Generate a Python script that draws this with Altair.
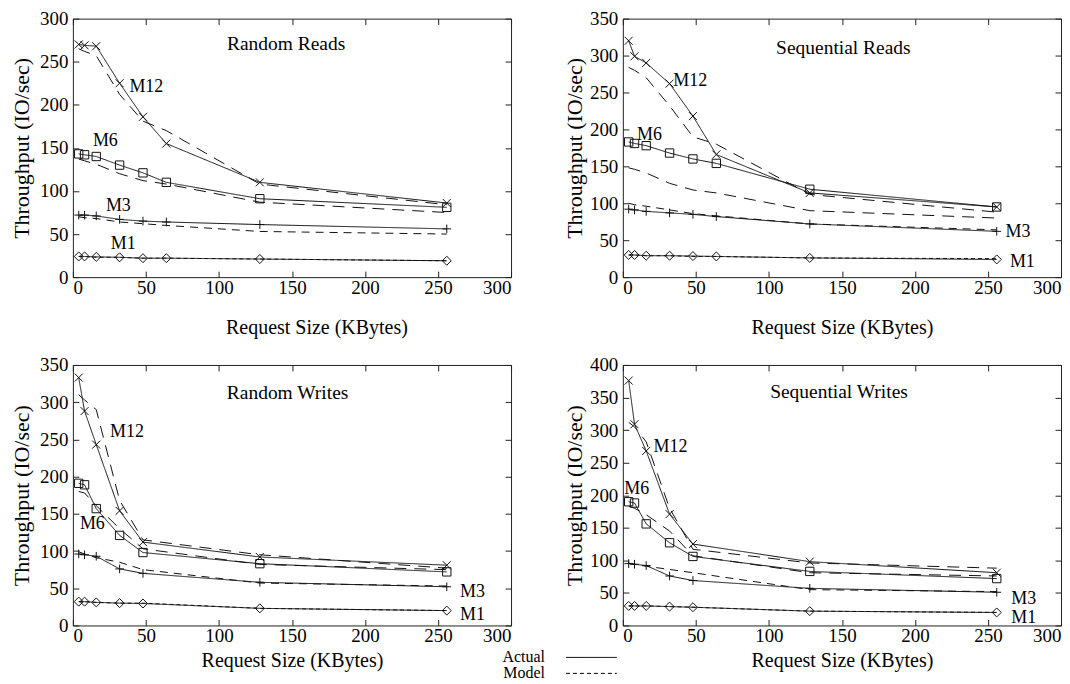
import altair as alt
import pandas as pd

FONT = "Liberation Serif"

# ---------------- data ----------------
x_reads = [4, 8, 16, 32, 48, 64, 128, 256]
x_writes = [4, 8, 16, 32, 48, 128, 256]

# Random Reads
rr_m12_act = [270, 269, 268, 225, 186, 155, 110, 86]
rr_m12_mod = [265, 262, 257, 212, 181, 170, 108, 84]
rr_m6_act = [143, 142, 140, 130, 121, 110, 91, 81]
rr_m6_mod = [137, 135, 131, 120, 112, 108, 87, 75]
rr_m3_act = [72, 72, 71, 67, 65, 64, 61, 56]
rr_m3_mod = [70, 69, 68, 64, 62, 60, 53, 50]
rr_m1_act = [24, 24, 23.5, 23, 22, 22, 21, 19]
rr_m1_mod = [24, 24, 23, 23, 22, 22, 21, 19]

# Sequential Reads
sr_m12_act = [320, 299, 290, 262, 218, 166, 114, 95]
sr_m12_mod = [284, 280, 270, 232, 190, 180, 112, 88]
sr_m6_act = [183, 181, 178, 168, 160, 154, 119, 95]
sr_m6_mod = [148, 146, 141, 127, 118, 114, 90, 80]
sr_m3_act = [92, 91, 89, 87, 85, 82, 72, 62]
sr_m3_mod = [100, 98, 96, 91, 86, 83, 72, 64]
sr_m1_act = [30, 30, 29, 29, 28.5, 28, 26, 24]
sr_m1_mod = [30, 30, 29, 29, 28, 28, 26, 25]

# Random Writes
rw_m12_act = [333, 288, 243, 154, 112, 92, 81]
rw_m12_mod = [310, 303, 290, 168, 115, 95, 77]
rw_m6_act = [191, 189, 157, 121, 98, 83, 72]
rw_m6_mod = [180, 178, 161, 130, 103, 82, 75]
rw_m3_act = [96, 95, 93, 76, 70, 58, 52]
rw_m3_mod = [99, 96, 91, 85, 75, 57, 53]
rw_m1_act = [32, 32, 31, 30, 29.5, 23, 20]
rw_m1_mod = [32, 32, 31, 30, 30, 23, 20]

# Sequential Writes
sw_m12_act = [376, 309, 268, 171, 125, 98, 81]
sw_m12_mod = [312, 305, 282, 180, 117, 96, 88]
sw_m6_act = [190, 188, 156, 127, 106, 83, 72]
sw_m6_mod = [183, 180, 170, 145, 107, 81, 76]
sw_m3_act = [95, 94, 92, 76, 69, 57, 51]
sw_m3_mod = [96, 94, 91, 86, 81, 55, 52]
sw_m1_act = [30, 30, 30, 29, 28, 22, 20]
sw_m1_mod = [30, 30, 30, 29, 28, 22, 20]

series_names = ["M12", "M6", "M3", "M1"]
panel_titles = ["Random Reads", "Sequential Reads", "Random Writes", "Sequential Writes"]
y_max = [300, 350, 350, 400]

# annotation anchors (data coordinates)
ann_rr = {"M12": (38.7, 221), "M6": (13.7, 157.5), "M3": (22.6, 82), "M1": (26, 39)}
ann_sr = {"M12": (34.6, 265), "M6": (9.7, 193), "M3": (262, 61.6), "M1": (265, 20)}
ann_rw = {"M12": (25.5, 260), "M6": (4.8, 136), "M3": (265, 45.6), "M1": (265, 13.4)}
ann_sw = {"M12": (21, 274), "M6": (1, 209), "M3": (266, 40), "M1": (266, 12)}
title_pos = [(146, 270), (151, 310), (147, 312), (148, 359)]

MODEL_STYLE = {"M12": "ModelLong", "M6": "ModelLong", "M3": "ModelMid", "M1": "Model"}


def build_df(xs, series):
    rows = []
    for name, (act, mod) in zip(series_names, series):
        for x, v in zip(xs, act):
            rows.append({"x": x, "y": v, "series": name, "kind": "Actual",
                         "style": "Actual", "key": name + "-a"})
        for x, v in zip(xs, mod):
            rows.append({"x": x, "y": v, "series": name, "kind": "Model",
                         "style": MODEL_STYLE[name], "key": name + "-m"})
    return pd.DataFrame(rows)


df_rr = build_df(x_reads, [(rr_m12_act, rr_m12_mod), (rr_m6_act, rr_m6_mod),
                           (rr_m3_act, rr_m3_mod), (rr_m1_act, rr_m1_mod)])
df_sr = build_df(x_reads, [(sr_m12_act, sr_m12_mod), (sr_m6_act, sr_m6_mod),
                           (sr_m3_act, sr_m3_mod), (sr_m1_act, sr_m1_mod)])
df_rw = build_df(x_writes, [(rw_m12_act, rw_m12_mod), (rw_m6_act, rw_m6_mod),
                            (rw_m3_act, rw_m3_mod), (rw_m1_act, rw_m1_mod)])
df_sw = build_df(x_writes, [(sw_m12_act, sw_m12_mod), (sw_m6_act, sw_m6_mod),
                            (sw_m3_act, sw_m3_mod), (sw_m1_act, sw_m1_mod)])

X_SHAPE = "M-1,-1L1,1M-1,1L1,-1"
PLUS_SHAPE = "M-1,0L1,0M0,-1L0,1"


def panel(df, ymax, ann, tpos, ttext, w, h, x_title_pad, y_title_pad,
          legend=None, x_title_x=None):
    xs = alt.Scale(domain=[0, 300], nice=False)
    ys = alt.Scale(domain=[0, ymax], nice=False)
    xvals = list(range(0, 301, 50))
    yvals = list(range(0, ymax + 1, 50))

    xa_kwargs = dict(values=xvals, title="Request Size (KBytes)", orient="bottom",
                     domain=False, ticks=True, tickSize=6, offset=-6,
                     labelPadding=1, titlePadding=x_title_pad, grid=False,
                     titleFontSize=20)
    if x_title_x is not None:
        xa_kwargs["titleX"] = x_title_x
    x_main = alt.Axis(**xa_kwargs)
    y_main = alt.Axis(values=yvals, title="Throughput (IO/sec)", orient="left",
                      domain=False, ticks=True, tickSize=6, offset=-6,
                      labelPadding=5, titlePadding=y_title_pad, grid=False,
                      titleFontSize=22)
    x_top = alt.Axis(values=xvals, title=None, orient="top", labels=False,
                     domain=False, ticks=True, tickSize=6, offset=-6, grid=False)
    y_right = alt.Axis(values=yvals, title=None, orient="right", labels=False,
                       domain=False, ticks=True, tickSize=6, offset=-6, grid=False)

    dash_scale = alt.Scale(domain=["Actual", "Model", "ModelMid", "ModelLong"],
                           range=[[1, 0], [4, 3], [8, 6], [12, 8]])
    base = alt.Chart(df)

    if legend is not None:
        sd = alt.StrokeDash("style:N", scale=dash_scale, legend=legend)
    else:
        sd = alt.StrokeDash("style:N", scale=dash_scale, legend=None)

    lines = base.mark_line(color="#111", strokeWidth=1).encode(
        x=alt.X("x:Q", scale=xs, axis=x_main),
        y=alt.Y("y:Q", scale=ys, axis=y_main),
        detail="key:N",
        strokeDash=sd,
        order="x:Q",
    )
    frame = base.mark_line(opacity=0).encode(
        x=alt.X("x:Q", scale=xs, axis=x_top),
        y=alt.Y("y:Q", scale=ys, axis=y_right),
        detail="key:N",
    )
    pts = base.transform_filter(alt.datum.kind == "Actual").mark_point(
        filled=False, color="#111", strokeWidth=1, opacity=1
    ).encode(
        x=alt.X("x:Q", scale=xs, axis=None),
        y=alt.Y("y:Q", scale=ys, axis=None),
        shape=alt.Shape("series:N", scale=alt.Scale(domain=series_names,
                        range=[X_SHAPE, "square", PLUS_SHAPE, "diamond"]), legend=None),
        size=alt.Size("series:N", scale=alt.Scale(domain=series_names,
                      range=[64, 81, 81, 42]), legend=None),
    )
    ann_df = pd.DataFrame({"label": list(ann.keys()),
                           "x": [v[0] for v in ann.values()],
                           "y": [v[1] for v in ann.values()]})
    txt = alt.Chart(ann_df).mark_text(align="left", baseline="middle", font=FONT,
                                      fontSize=18, color="black").encode(
        x=alt.X("x:Q", scale=xs, axis=None),
        y=alt.Y("y:Q", scale=ys, axis=None),
        text="label:N",
    )
    tdf = pd.DataFrame({"label": [ttext], "x": [tpos[0]], "y": [tpos[1]]})
    ttl = alt.Chart(tdf).mark_text(align="center", baseline="middle", font=FONT,
                                   fontSize=19.5, color="black").encode(
        x=alt.X("x:Q", scale=xs, axis=None),
        y=alt.Y("y:Q", scale=ys, axis=None),
        text="label:N",
    )
    return alt.layer(lines, frame, pts, txt, ttl).properties(
        width=w, height=h
    ).resolve_axis(x="independent", y="independent")


legend = alt.Legend(values=["Actual", "Model"], orient="none", legendX=457,
                    legendY=285, title=None, symbolType="M14.5,0L40,0", symbolSize=16,
                    symbolStrokeColor="black", symbolStrokeWidth=1,
                    labelFont=FONT, labelFontSize=16, labelColor="black",
                    labelAlign="right", labelOffset=0, rowPadding=0, padding=0)

W = 439
p1 = panel(df_rr, y_max[0], ann_rr, title_pos[0], panel_titles[0], W, 259, 20, 6,
           x_title_x=244)
p2 = panel(df_sr, y_max[1], ann_sr, title_pos[1], panel_titles[1], W, 259, 20, 3)
p3 = panel(df_rw, y_max[2], ann_rw, title_pos[2], panel_titles[2], W, 261, 5, 6,
           legend=legend)
p4 = panel(df_sw, y_max[3], ann_sw, title_pos[3], panel_titles[3], W, 261, 5, 3)

chart = alt.concat(
    p1, p2, p3, p4, columns=2, spacing={"row": 88, "column": 112}, bounds="flush"
).resolve_scale(
    strokeDash="independent", shape="independent", size="independent"
).resolve_legend(strokeDash="independent").properties(
    padding={"left": 2, "top": 0, "right": 0, "bottom": 0}
).configure_view(
    stroke="#222", strokeWidth=1
).configure_axis(
    labelFont=FONT, titleFont=FONT, labelFontSize=19, titleFontSize=19,
    titleFontWeight="normal", labelColor="black", titleColor="black",
    tickColor="#222", grid=False
)

chart.save("out.html", embed_options={"renderer": "svg", "actions": False})
